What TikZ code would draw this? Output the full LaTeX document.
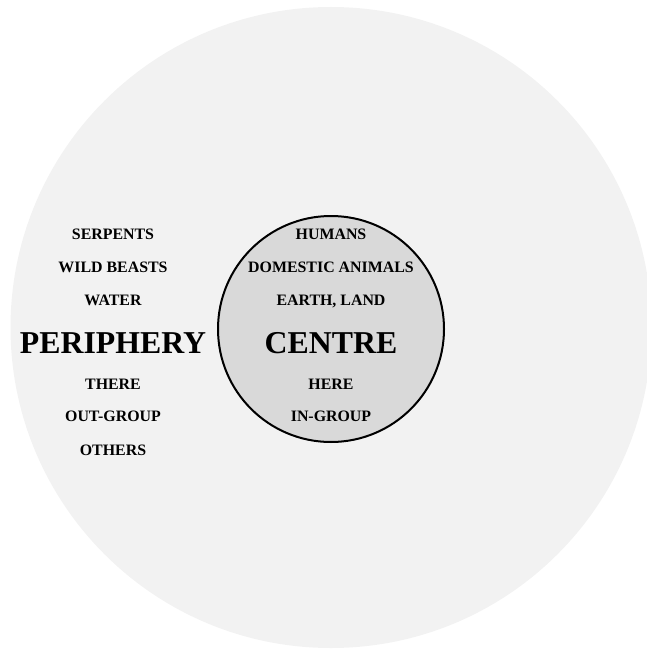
\documentclass[tikz,border=0pt]{standalone}
\usepackage{fontspec}
\setmainfont{Liberation Serif}
\begin{document}
\begin{tikzpicture}[x=1pt, y=-1pt,
  every node/.style={font=\bfseries\fontsize{15.9}{18}\selectfont, inner sep=0pt, text height=10.5pt, text depth=0pt},
  bigword/.style={font=\bfseries\fontsize{31.8}{36}\selectfont, text height=21pt}]
\useasboundingbox (0,0) rectangle (647,650);
\node[circle, fill=gray!10, minimum size=641pt, text height=0pt] (world) at (331,327.5) {};
\node[circle, draw, line width=2pt, fill=gray!30, minimum size=226pt, text height=0pt] (home) at (331,329) {};
% periphery side
\node (serp) at (113,234) {SERPENTS};
\node (wild) at (113,267) {WILD BEASTS};
\node (water) at (113,300) {WATER};
\node[bigword] (peri) at (113,343) {PERIPHERY};
\node (there) at (113,384) {THERE};
\node (outg) at (113,416) {OUT-GROUP};
\node (others) at (113,450) {OTHERS};
% centre side
\node (hum) at (331,234) {HUMANS};
\node (dom) at (331,267) {DOMESTIC ANIMALS};
\node (earth) at (331,300) {EARTH, LAND};
\node[bigword] (centre) at (331,343) {CENTRE};
\node (here) at (331,384) {HERE};
\node (ing) at (331,416) {IN-GROUP};
\end{tikzpicture}
\end{document}
